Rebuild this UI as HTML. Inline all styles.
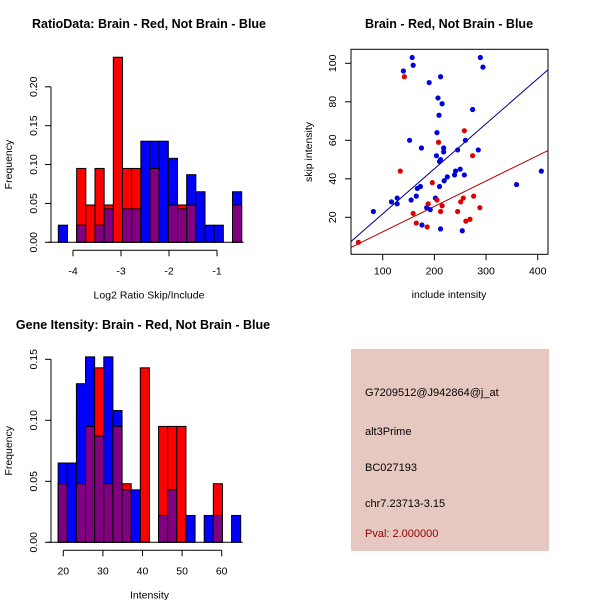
<!DOCTYPE html>
<html><head><meta charset="utf-8"><style>
html,body{margin:0;padding:0;background:#fff;width:600px;height:600px;overflow:hidden}
svg text{font-family:"Liberation Sans",sans-serif}
</style></head><body>
<svg id="s" width="600" height="600" xmlns="http://www.w3.org/2000/svg">
<rect x="0" y="0" width="600" height="600" fill="#fff"/>
<text x="149" y="28" font-size="12.5" font-weight="bold" text-anchor="middle">RatioData: Brain - Red, Not Brain - Blue</text>
<text x="449" y="28" font-size="12.5" font-weight="bold" text-anchor="middle">Brain - Red, Not Brain - Blue</text>
<text x="143" y="329" font-size="12.5" font-weight="bold" text-anchor="middle">Gene Itensity: Brain - Red, Not Brain - Blue</text>
<g>
<rect x="351" y="349" width="198" height="202" fill="#E6C8C0"/>
<text x="365" y="396" font-size="11">G7209512@J942864@j_at</text>
<text x="365" y="435" font-size="11">alt3Prime</text>
<text x="365" y="471" font-size="11">BC027193</text>
<text x="365" y="507" font-size="11">chr7.23713-3.15</text>
<text x="365" y="537" font-size="11" fill="#8B0000">Pval: 2.000000</text>
</g>
</svg>
<script>
// Ratio histogram data
const ratioBinStart = -4.306, ratioBinWidth = 0.191;
const ratioRed  = [0,0,0.095,0.048,0.095,0.048,0.238,0.095,0.095,0,0.095,0,0.048,0.048,0.048,0,0,0,0,0.048];
const ratioBlue = [0.022,0,0.022,0,0.022,0.043,0,0.043,0.043,0.13,0.13,0.13,0.108,0.043,0.087,0.065,0.022,0.022,0,0.065];
const ratioXTicks = [-4,-3,-2,-1];
const ratioYTicks = [0,0.05,0.10,0.15,0.20];
// Intensity histogram data
const intBinStart = 18.7, intBinWidth = 2.305;
const intRed  = [0.048,0,0.048,0.095,0.143,0.048,0.095,0.048,0,0.143,0,0.095,0.095,0.095,0,0,0,0.048,0,0];
const intBlue = [0.065,0.065,0.13,0.152,0.087,0.152,0.108,0.043,0.043,0,0,0.022,0.043,0,0.022,0,0.022,0.022,0,0.022];
const intXTicks = [20,30,40,50,60];
const intYTicks = [0,0.05,0.10,0.15];
// Scatter data
const blueX = [157,159,140,289,294,190,212,207,215,209,274,152,175,205,218,218,245,260,285,204,212,210,241,250,239,258,225,219,210,359,407,173,167,165,155,202,128,128,117,82,185,192,176,212,254];
const blueY = [103,99,96,103,98,90,93,82,79,73,76,60,56,64,56,54,55,60,55,52,50,49,44,45,42,42,41,39,36,37,44,36,35,31,29,30,30,27,28,23,25,24,16,14,13];
const redX = [142,208,258,274,134,196,205,188,215,159,165,186,212,245,251,256,276,288,261,269,53];
const redY = [93,59,65,52,44,38,29,27,26,22,17,15,23,23,28,30,31,25,18,19,7];
const blueFit = [-1.6, 0.234];
const redFit = [-0.75, 0.132];
const scXTicks = [100,200,300,400];
const scYTicks = [20,40,60,80,100];

const NS="http://www.w3.org/2000/svg", svg=document.getElementById('s');
function mk(tag, attrs, parent){const e=document.createElementNS(NS,tag);for(const k in attrs)e.setAttribute(k,attrs[k]);(parent||svg).appendChild(e);return e;}
function txt(x,y,s,attrs,parent){const t=mk('text',Object.assign({x:x,y:y,'font-size':10.5},attrs||{}),parent);t.textContent=s;return t;}

function hist(cfg){
  const g=mk('g',{});
  
  
  const X=v=>cfg.x0+(v-cfg.xv0)*cfg.xs, Y=v=>cfg.y0-v*cfg.ys;
  for(let i=0;i<cfg.red.length;i++){
    const a=cfg.bin0+i*cfg.bw, b=a+cfg.bw, r=cfg.red[i], bl=cfg.blue[i];
    const x1=X(a), w=X(b)-x1;
    const top=Math.max(r,bl), low=Math.min(r,bl);
    if(top>0){
      const rc=mk('rect',{x:x1,y:Y(top),width:w,height:Y(0)-Y(top),fill:r>=bl?'#FF0000':'#0000FF',stroke:'#000','stroke-width':1},g);
      
      
    }
    if(low>0){
      const pc=mk('rect',{x:x1,y:Y(low),width:w,height:Y(0)-Y(low),fill:'#800080',stroke:'#000','stroke-width':1},g);
      
      
    }
  }
  mk('line',{x1:X(cfg.bin0)-10,y1:Y(0),x2:X(cfg.bin0+cfg.bw*cfg.red.length)+2,y2:Y(0),stroke:'#000'},g);
  const xa=mk('g',{},g);
  
  
  const ax=cfg.y0+8;
  mk('line',{x1:X(cfg.xt[0]),y1:ax,x2:X(cfg.xt[cfg.xt.length-1]),y2:ax,stroke:'#000'},xa);
  cfg.xt.forEach(t=>{mk('line',{x1:X(t),y1:ax,x2:X(t),y2:ax+6,stroke:'#000'},xa);txt(X(t),ax+24,String(t),{'text-anchor':'middle'},xa);});
  const ya=mk('g',{},g);
  
  
  const yx=cfg.yx;
  mk('line',{x1:yx,y1:Y(cfg.yt[0]),x2:yx,y2:Y(cfg.yt[cfg.yt.length-1]),stroke:'#000'},ya);
  cfg.yt.forEach(t=>{mk('line',{x1:yx,y1:Y(t),x2:yx-6,y2:Y(t),stroke:'#000'},ya);txt(0,0,t.toFixed(2),{'text-anchor':'middle',transform:`translate(${yx-14},${Y(t)}) rotate(-90)`},ya);});
  const xl=txt((X(cfg.xt[0])+X(cfg.xt[cfg.xt.length-1]))/2+cfg.xlOff,cfg.y0+56,cfg.xlabel,{'text-anchor':'middle'},g);
  
  
  const yl=txt(0,0,'Frequency',{'text-anchor':'middle',transform:`translate(12,${(cfg.y0+Y(cfg.yt[cfg.yt.length-1]))/2}) rotate(-90)`},g);
  
  
}
hist({name:'ratio-histogram',red:ratioRed,blue:ratioBlue,bin0:ratioBinStart,bw:ratioBinWidth,x0:73,xv0:-4,xs:48,y0:242.3,ys:777.5,xt:ratioXTicks,yt:ratioYTicks,yx:51,xlabel:'Log2 Ratio Skip/Include',xlOff:4});
hist({name:'intensity-histogram',red:intRed,blue:intBlue,bin0:intBinStart,bw:intBinWidth,x0:63.3,xv0:20,xs:3.96,y0:542.3,ys:1220,xt:intXTicks,yt:intYTicks,yx:51,xlabel:'Intensity',xlOff:7});

(function(){
  const g=mk('g',{});
  
  
  const L=351,R=548,T=49.3,B=254.3;
  const X=v=>382.7+(v-100)*0.5167, Y=v=>217.3-(v-20)*1.925;
  const d=mk('g',{},g);
  mk('line',{x1:L,y1:Y(blueFit[0]+blueFit[1]*((L-382.7)/0.5167+100)),x2:R,y2:Y(blueFit[0]+blueFit[1]*((R-382.7)/0.5167+100)),stroke:'#00008B','stroke-width':1},d);
  mk('line',{x1:L,y1:Y(redFit[0]+redFit[1]*((L-382.7)/0.5167+100)),x2:R,y2:Y(redFit[0]+redFit[1]*((R-382.7)/0.5167+100)),stroke:'#B00000','stroke-width':1},d);
  blueX.forEach((x,i)=>{const c=mk('circle',{cx:X(x),cy:Y(blueY[i]),r:2.6,fill:'#0000DD'},d);
    
    });
  redX.forEach((x,i)=>{const c=mk('circle',{cx:X(x),cy:Y(redY[i]),r:2.6,fill:'#DD0000'},d);
    
    });
  mk('rect',{x:L,y:T,width:R-L,height:B-T,fill:'none',stroke:'#000'},g);
  scXTicks.forEach(t=>{mk('line',{x1:X(t),y1:B,x2:X(t),y2:B+6,stroke:'#000'},g);txt(X(t),B+20,String(t),{'text-anchor':'middle'},g);});
  scYTicks.forEach(t=>{mk('line',{x1:L,y1:Y(t),x2:L-6,y2:Y(t),stroke:'#000'},g);txt(0,0,String(t),{'text-anchor':'middle',transform:`translate(${L-15},${Y(t)}) rotate(-90)`},g);});
  const xl=txt(449,298,'include intensity',{'text-anchor':'middle'},g);
  
  
  const yl=txt(0,0,'skip intensity',{'text-anchor':'middle',transform:'translate(312,152) rotate(-90)'},g);
  
  
})();
</script>
</body></html>
